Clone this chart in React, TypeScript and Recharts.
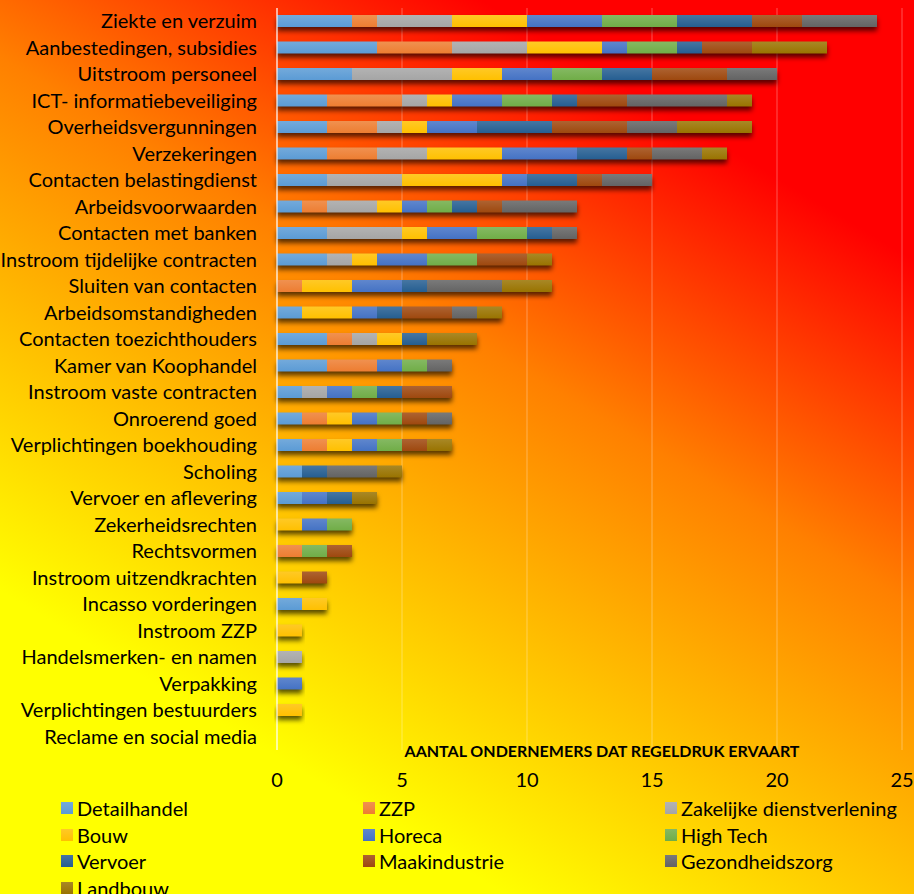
import React from 'react';
import { BarChart, Bar, XAxis, YAxis, CartesianGrid } from 'recharts';

const categories = [
  'Ziekte en verzuim',
  'Aanbestedingen, subsidies',
  'Uitstroom personeel',
  'ICT- informatiebeveiliging',
  'Overheidsvergunningen',
  'Verzekeringen',
  'Contacten belastingdienst',
  'Arbeidsvoorwaarden',
  'Contacten met banken',
  'Instroom tijdelijke contracten',
  'Sluiten van contacten',
  'Arbeidsomstandigheden',
  'Contacten toezichthouders',
  'Kamer van Koophandel',
  'Instroom vaste contracten',
  'Onroerend goed',
  'Verplichtingen boekhouding',
  'Scholing',
  'Vervoer en aflevering',
  'Zekerheidsrechten',
  'Rechtsvormen',
  'Instroom uitzendkrachten',
  'Incasso vorderingen',
  'Instroom ZZP',
  'Handelsmerken- en namen',
  'Verpakking',
  'Verplichtingen bestuurders',
  'Reclame en social media',
];

const detailhandel = [3, 4, 3, 2, 2, 2, 2, 1, 2, 2, 0, 1, 2, 2, 1, 1, 1, 1, 1, 0, 0, 0, 1, 0, 0, 0, 0, 0];
const zzp = [1, 3, 0, 3, 2, 2, 0, 1, 0, 0, 1, 0, 1, 2, 0, 1, 1, 0, 0, 0, 1, 0, 0, 0, 0, 0, 0, 0];
const zakelijke = [3, 3, 4, 1, 1, 2, 3, 2, 3, 1, 0, 0, 1, 0, 1, 0, 0, 0, 0, 0, 0, 0, 0, 0, 1, 0, 0, 0];
const bouw = [3, 3, 2, 1, 1, 3, 4, 1, 1, 1, 2, 2, 1, 0, 0, 1, 1, 0, 0, 1, 0, 1, 1, 1, 0, 0, 1, 0];
const horeca = [3, 1, 2, 2, 2, 3, 1, 1, 2, 2, 2, 1, 0, 1, 1, 1, 1, 0, 1, 1, 0, 0, 0, 0, 0, 1, 0, 0];
const highTech = [3, 2, 2, 2, 0, 0, 0, 1, 2, 2, 0, 0, 0, 1, 1, 1, 1, 0, 0, 1, 1, 0, 0, 0, 0, 0, 0, 0];
const vervoer = [3, 1, 2, 1, 3, 2, 2, 1, 1, 0, 1, 1, 1, 0, 1, 0, 0, 1, 1, 0, 0, 0, 0, 0, 0, 0, 0, 0];
const maakindustrie = [2, 2, 3, 2, 3, 1, 1, 1, 0, 2, 0, 2, 0, 0, 2, 1, 1, 0, 0, 0, 1, 1, 0, 0, 0, 0, 0, 0];
const gezondheidszorg = [3, 0, 2, 4, 2, 2, 2, 3, 1, 0, 3, 1, 0, 1, 0, 1, 0, 2, 0, 0, 0, 0, 0, 0, 0, 0, 0, 0];
const landbouw = [0, 3, 0, 1, 3, 1, 0, 0, 0, 1, 2, 1, 2, 0, 0, 0, 1, 1, 1, 0, 0, 0, 0, 0, 0, 0, 0, 0];

const xTicks = [0, 5, 10, 15, 20, 25];

const series = [
  { key: 'detailhandel', name: 'Detailhandel', values: detailhandel, color: '#5B9BD5' },
  { key: 'zzp', name: 'ZZP', values: zzp, color: '#ED7D31' },
  { key: 'zakelijke', name: 'Zakelijke dienstverlening', values: zakelijke, color: '#A5A5A5' },
  { key: 'bouw', name: 'Bouw', values: bouw, color: '#FFC000' },
  { key: 'horeca', name: 'Horeca', values: horeca, color: '#4472C4' },
  { key: 'highTech', name: 'High Tech', values: highTech, color: '#70AD47' },
  { key: 'vervoer', name: 'Vervoer', values: vervoer, color: '#255E91' },
  { key: 'maakindustrie', name: 'Maakindustrie', values: maakindustrie, color: '#9E480E' },
  { key: 'gezondheidszorg', name: 'Gezondheidszorg', values: gezondheidszorg, color: '#636363' },
  { key: 'landbouw', name: 'Landbouw', values: landbouw, color: '#997300' },
];

const data = categories.map((name, i) => {
  const row: Record<string, any> = { name, total: 0 };
  series.forEach((s) => {
    row[s.key] = s.values[i];
    row.total += s.values[i];
  });
  return row;
});

const lighten = (hex: string, amt: number) => {
  const n = parseInt(hex.slice(1), 16);
  const mix = (c: number) => Math.round(c + (255 - c) * amt);
  const r = mix((n >> 16) & 255);
  const g = mix((n >> 8) & 255);
  const b = mix(n & 255);
  return `rgb(${r},${g},${b})`;
};

const FONT = 'Lato, "Noto Sans", sans-serif';

const CategoryTick = ({ x, y, payload }: any) => (
  <text x={x - 12} y={y + 7} textAnchor="end" fontSize={20} fill="#000" fontFamily={FONT}>
    {payload.value}
  </text>
);

const ValueTick = ({ x, y, payload }: any) => (
  <text x={x} y={y + 37} textAnchor="middle" fontSize={20} fill="#000" fontFamily={FONT}>
    {payload.value}
  </text>
);

export default function App() {
  return (
    <div
      style={{
        position: 'absolute',
        left: 0,
        top: 0,
        width: 914,
        height: 894,
        overflow: 'hidden',
        background: 'linear-gradient(31deg, #ffff00 21%, #ff8000 58%, #ff0000 82%)',
        fontFamily: FONT,
      }}
    >
      <BarChart
        width={914}
        height={894}
        data={data}
        layout="vertical"
        margin={{ top: 8, right: 12, bottom: 0, left: 0 }}
        barSize={12}
        barGap={-12}
      >
        <defs>
          <filter id="barShadow" x="-10%" y="-60%" width="120%" height="280%">
            <feGaussianBlur in="SourceAlpha" stdDeviation="2.5" />
            <feOffset dy="4" result="off" />
            <feFlood floodColor="#000" floodOpacity="0.65" />
            <feComposite in2="off" operator="in" />
          </filter>
          {series.map((s) => (
            <linearGradient key={s.key} id={`g-${s.key}`} x1="0" y1="0" x2="0" y2="1">
              <stop offset="0%" stopColor={lighten(s.color, 0.15)} />
              <stop offset="100%" stopColor={s.color} />
            </linearGradient>
          ))}
        </defs>
        <CartesianGrid horizontal={false} stroke="rgba(255,255,255,0.16)" strokeWidth={2} />
        <XAxis
          type="number"
          domain={[0, 25]}
          ticks={xTicks}
          axisLine={false}
          tickLine={false}
          tickSize={0}
          tickMargin={0}
          height={144}
          tick={<ValueTick />}
          interval={0}
        />
        <YAxis
          type="category"
          dataKey="name"
          width={277}
          interval={0}
          tickLine={false}
          axisLine={{ stroke: 'rgba(255,255,255,0.55)', strokeWidth: 2 }}
          tick={<CategoryTick />}
        />
        <Bar dataKey="total" stackId="shadow" fill="#000" filter="url(#barShadow)" isAnimationActive={false} />
        {series.map((s) => (
          <Bar
            key={s.key}
            dataKey={s.key}
            name={s.name}
            stackId="a"
            fill={`url(#g-${s.key})`}
            isAnimationActive={false}
          />
        ))}
      </BarChart>
      <div
        style={{
          position: 'absolute',
          left: 402,
          width: 400,
          top: 741,
          textAlign: 'center',
          fontWeight: 700,
          fontSize: 16,
          color: '#000',
          whiteSpace: 'nowrap',
        }}
      >
        AANTAL ONDERNEMERS DAT REGELDRUK ERVAART
      </div>
      {series.map((s, i) => (
        <div
          key={s.key}
          style={{
            position: 'absolute',
            left: 61 + (i % 3) * 302,
            top: 797 + Math.floor(i / 3) * 26.7,
            height: 22,
            display: 'flex',
            alignItems: 'center',
            fontSize: 20,
            color: '#000',
            whiteSpace: 'nowrap',
          }}
        >
          <span
            style={{
              display: 'inline-block',
              width: 12,
              height: 12,
              marginRight: 4,
              background: `linear-gradient(${lighten(s.color, 0.15)}, ${s.color})`,
            }}
          />
          {s.name}
        </div>
      ))}
    </div>
  );
}
